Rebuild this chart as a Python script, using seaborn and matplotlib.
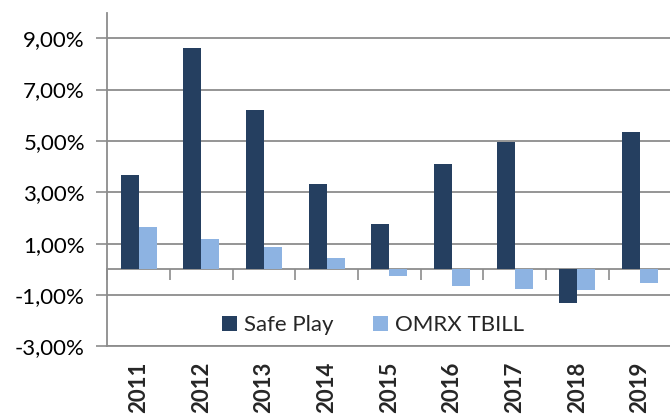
import numpy as np
import pandas as pd
import matplotlib
matplotlib.use('Agg')
import matplotlib.pyplot as plt
from matplotlib.ticker import FuncFormatter
import seaborn as sns

# Valeurs (en %)
years = ['2011', '2012', '2013', '2014', '2015', '2016', '2017', '2018', '2019']
safe_play = [3.66, 8.63, 6.21, 3.33, 1.78, 4.10, 4.95, -1.31, 5.36]
omrx_tbill = [1.64, 1.19, 0.87, 0.45, -0.26, -0.65, -0.78, -0.82, -0.53]
series = ['Safe Play', 'OMRX TBILL']
colors = ['#253f60', '#8db3e2']

data = pd.DataFrame({
    'year': years * 2,
    'value': safe_play + omrx_tbill,
    'serie': [series[0]] * len(years) + [series[1]] * len(years),
})

sns.set_style('white')
plt.rcParams['font.family'] = ['Lato', 'DejaVu Sans']

grey = '#8c8c8c'
fig = plt.figure(figsize=(6.7, 4.17), dpi=100)
ax = fig.add_axes([0.160, 0.1695, 0.842, 0.8005])

sns.barplot(data=data, x='year', y='value', hue='serie', palette=colors,
            saturation=1, width=0.575, gap=0, edgecolor='none', ax=ax)

ax.set_ylim(-3, 10)
ax.set_xlim(-0.5, len(years) - 0.5)
ax.set_yticks(np.arange(-3, 10, 2))
ax.yaxis.set_major_formatter(FuncFormatter(lambda v, p: f'{v:.2f}%'.replace('.', ',')))
ax.grid(axis='y', color=grey, linewidth=1.3)
ax.set_axisbelow(True)
ax.tick_params(axis='y', direction='out', length=8, width=1.2, color=grey,
               labelsize=16, labelcolor='black', pad=8, left=True)

for s in ['top', 'right']:
    ax.spines[s].set_visible(False)
ax.spines['left'].set_color(grey)
ax.spines['left'].set_linewidth(1.3)
ax.spines['bottom'].set_color(grey)
ax.spines['bottom'].set_linewidth(1.3)

# annees sous le graphique
ax.tick_params(axis='x', length=0, pad=11)
ax.set_xticks(range(len(years)))
ax.set_xticklabels(years, rotation=90, fontsize=16, fontweight='bold')
ax.set_xlabel('')
ax.set_ylabel('')

# axe du zero avec les graduations entre categories
zero = ax.secondary_xaxis(0, transform=ax.transData)
zero.set_xticks(np.arange(-0.5, len(years), 1))
zero.tick_params(length=8, width=1.2, color=grey, labelbottom=False)
zero.spines['bottom'].set_color(grey)
zero.spines['bottom'].set_linewidth(1.3)

ax.legend(loc='center', bbox_to_anchor=(0.471, 0.064), ncol=2, frameon=False,
          fontsize=16, handlelength=0.68, handleheight=0.68, handletextpad=0.3,
          columnspacing=1.8, title=None)

plt.savefig('out.png', dpi=100)
